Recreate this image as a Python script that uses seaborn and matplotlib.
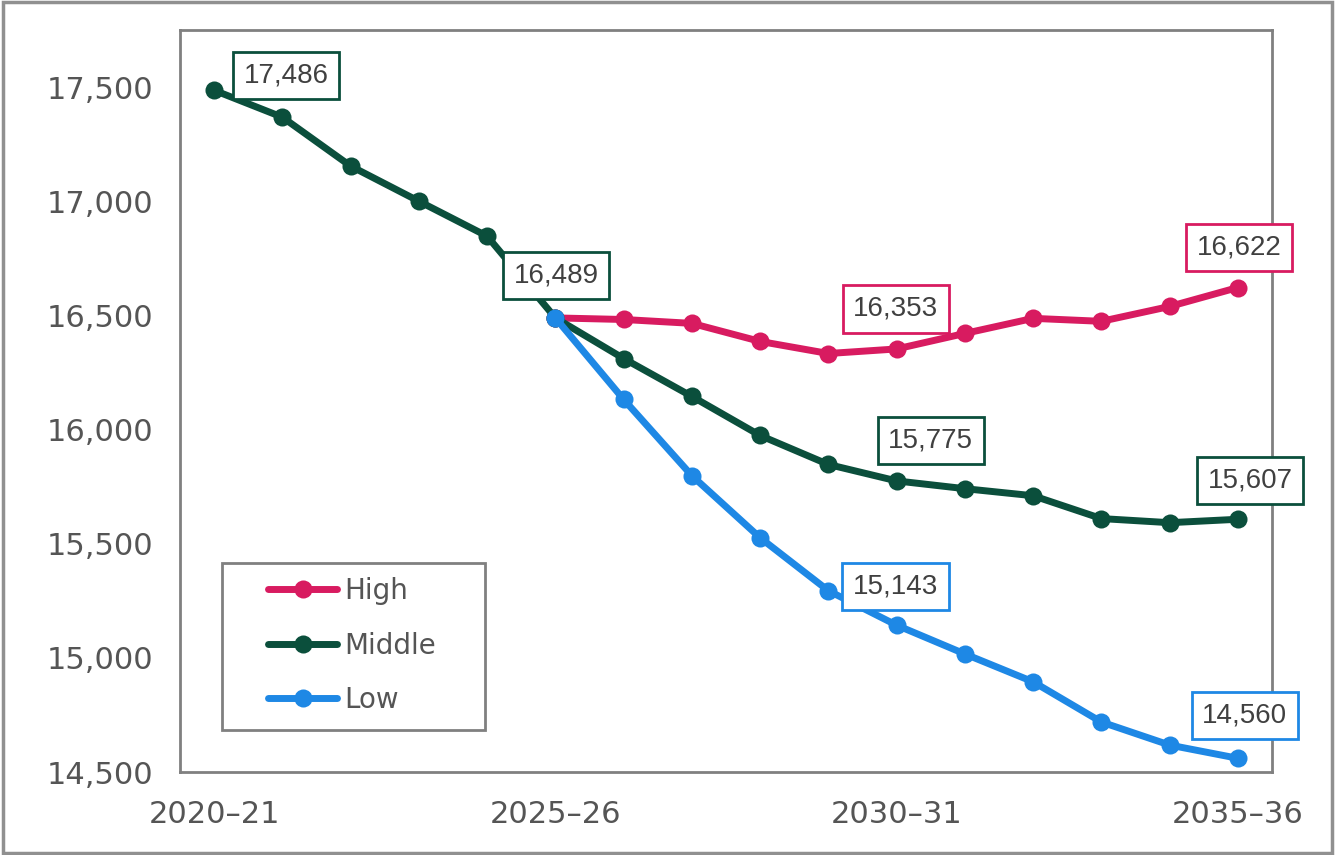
import numpy as np
import pandas as pd
import matplotlib.pyplot as plt
import seaborn as sns

# Data
years = ['2020-21', '2021-22', '2022-23', '2023-24', '2024-25', '2025-26', '2026-27', '2027-28',
         '2028-29', '2029-30', '2030-31', '2031-32', '2032-33', '2033-34', '2034-35', '2035-36']
middle = [17486, 17368, 17154, 17000, 16847, 16489, 16311, 16145, 15974, 15847, 15775, 15741,
          15710, 15610, 15592, 15607]
high = [np.nan] * 5 + [16489, 16482, 16465, 16386, 16333, 16353, 16421, 16487, 16474, 16539, 16622]
low = [np.nan] * 5 + [16489, 16132, 15798, 15526, 15294, 15143, 15017, 14895, 14719, 14618, 14560]
tick_labels = ['2020\u201321', '2025\u201326', '2030\u201331', '2035\u201336']
tick_idx = [0, 5, 10, 15]

colors = {'High': '#D81B60', 'Middle': '#0B4F3C', 'Low': '#1E88E5'}

df = pd.DataFrame({'Year': years, 'High': high, 'Middle': middle, 'Low': low})
df['x'] = range(len(years))
long_df = df.melt(id_vars=['Year', 'x'], value_vars=['High', 'Middle', 'Low'],
                  var_name='Scenario', value_name='Value').dropna()

sns.set_style('white')
plt.rcParams['font.family'] = ['DejaVu Sans']

fig = plt.figure(figsize=(13.35, 8.55), dpi=100)
ax = fig.add_axes([180 / 1335, 1 - 772 / 855, (1272 - 180) / 1335, (772 - 30) / 855])

sns.lineplot(data=long_df, x='x', y='Value', hue='Scenario', hue_order=['High', 'Middle', 'Low'],
             palette=colors, marker='o', markersize=13, markeredgewidth=0, linewidth=5,
             ax=ax, legend=True)

ax.set_xlim(-0.5, 15.5)
ax.set_ylim(14500, 17750)
ax.set_yticks(range(14500, 18000, 500))
ax.set_yticklabels([f'{v:,}' for v in range(14500, 18000, 500)], fontsize=22, color='#555555')
ax.set_xticks(tick_idx)
ax.set_xticklabels(tick_labels, fontsize=22, color='#555555')
ax.set_xticks(np.arange(0.5, 15, 1), minor=True)
ax.tick_params(axis='x', which='major', length=0, pad=20)
ax.tick_params(axis='x', which='minor', length=8, width=1.5, color='#808080', direction='in')
ax.tick_params(axis='y', length=0, pad=19)
ax.set_xlabel('')
ax.set_ylabel('')
for s in ax.spines.values():
    s.set_color('#808080')
    s.set_linewidth(2)

# Data labels
labels = [
    ('Middle', 0, 72, 15),
    ('Middle', 5, 1, 42),
    ('High', 10, -1, 40),
    ('High', 15, 1, 40),
    ('Middle', 10, 34, 40),
    ('Middle', 15, 12, 39),
    ('Low', 10, -1, 39),
    ('Low', 15, 7, 43),
]
for name, i, dx, dy in labels:
    v = df[name].iloc[i]
    ax.annotate(f'{int(v):,}', xy=(i, v), xytext=(dx, dy), textcoords='offset pixels',
                ha='center', va='center', fontsize=20, color='#404040',
                family=['Liberation Sans', 'DejaVu Sans'],
                bbox=dict(boxstyle='square,pad=0.38', fc='white', ec=colors[name], lw=2))

# Legend: frame drawn separately so its padding matches the original
leg = ax.legend(loc='center left', bbox_to_anchor=((268 - 180) / 1092, (772 - 645.5) / 742),
                fontsize=20, frameon=False, handlelength=2.5, handletextpad=0.25,
                borderpad=0, labelspacing=0.95, borderaxespad=0)
for t in leg.get_texts():
    t.set_color('#555555')
ax.add_patch(plt.Rectangle(((222 - 180) / 1092, (772 - 730) / 742), 263 / 1092, 167 / 742,
                           transform=ax.transAxes, fill=False, ec='#808080', lw=2, zorder=5))

fig.patches.append(plt.Rectangle((0.002, 0.002), 0.996, 0.996, transform=fig.transFigure,
                                 fill=False, ec='#909090', lw=2.5))

fig.savefig('out.png', dpi=100)
